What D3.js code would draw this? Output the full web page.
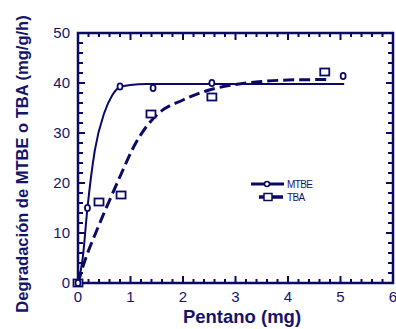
<html>
<head>
<script src='https://d3js.org/d3.v7.min.js'></script>
<style>
  body { margin: 0; background: #fff; }
  text { font-family: 'Liberation Sans', Arial, sans-serif; fill: #14146a; }
</style>
</head>
<body>
<script>
  'use strict';

  var mtbePoints = [[0, 0], [0.18, 15], [0.8, 39.3], [1.43, 39], [2.55, 40], [5.05, 41.4]];
  var tbaPoints = [[0, 0], [0.4, 16.2], [0.82, 17.6], [1.39, 33.8], [2.55, 37.2], [4.7, 42.2]];
  var mtbeCurve = [[0, 0], [0.09, 5], [0.18, 15], [0.32, 26.5], [0.5, 34], [0.65, 37.5],
                   [0.8, 39.2], [1.0, 39.6], [1.3, 39.8], [5.07, 39.8]];
  var tbaCurve = [[0, 0], [0.1, 3.5], [0.36, 10.6], [0.6, 16.5], [0.83, 22], [1.1, 28],
                  [1.5, 33.6], [2.0, 36.6], [2.5, 38.6], [3.0, 39.7], [3.5, 40.3], [4.0, 40.6], [4.74, 40.7]];
  var xTicks = [0, 1, 2, 3, 4, 5, 6];
  var yTicks = [0, 10, 20, 30, 40, 50];

  var navy = '#0a0a66';
  var W = 396, H = 329;
  var pLeft = 78, pRight = 393, pTop = 33, pBottom = 283;

  var svg = d3.select('body').append('svg')
      .attr('width', W)
      .attr('height', H);

  var x = d3.scaleLinear().domain([0, 6]).range([pLeft, pRight]);
  var y = d3.scaleLinear().domain([0, 50]).range([pBottom, pTop]);

  // ticks on all four sides, pointing inward
  var g = svg.append('g').attr('stroke', navy).attr('stroke-width', 2);
  d3.range(0, 6.01, 0.2).forEach(function (v) {
    var major = Math.abs(v - Math.round(v)) < 1e-6;
    var len = major ? 7 : 4;
    g.append('line').attr('x1', x(v)).attr('x2', x(v)).attr('y1', pBottom).attr('y2', pBottom - len);
    g.append('line').attr('x1', x(v)).attr('x2', x(v)).attr('y1', pTop).attr('y2', pTop + len);
  });
  d3.range(0, 50.01, 2).forEach(function (v) {
    var major = v % 10 === 0;
    var len = major ? 7 : 5;
    g.append('line').attr('y1', y(v)).attr('y2', y(v)).attr('x1', pLeft).attr('x2', pLeft + len);
    g.append('line').attr('y1', y(v)).attr('y2', y(v)).attr('x1', pRight).attr('x2', pRight - len);
  });

  svg.append('rect')
      .attr('x', pLeft).attr('y', pTop)
      .attr('width', pRight - pLeft).attr('height', pBottom - pTop)
      .attr('fill', 'none').attr('stroke', navy).attr('stroke-width', 2.5);

  svg.selectAll('.xl').data(xTicks).enter().append('text')
      .attr('x', function (d) { return x(d); })
      .attr('y', 302)
      .attr('text-anchor', 'middle')
      .style('font-size', '15px')
      .text(function (d) { return d; });

  svg.selectAll('.yl').data(yTicks).enter().append('text')
      .attr('x', 70)
      .attr('y', function (d) { return y(d) + 5; })
      .attr('text-anchor', 'end')
      .style('font-size', '15px')
      .text(function (d) { return d; });

  svg.append('text')
      .attr('x', 242).attr('y', 323)
      .attr('text-anchor', 'middle')
      .style('font-size', '18.5px').style('font-weight', 'bold')
      .text('Pentano (mg)');

  svg.append('text')
      .attr('transform', 'translate(28,164) rotate(-90)')
      .attr('text-anchor', 'middle')
      .style('font-size', '16.5px').style('font-weight', 'bold')
      .text('Degradación de MTBE o TBA  (mg/g/h)');

  var line = d3.line()
      .x(function (d) { return x(d[0]); })
      .y(function (d) { return y(d[1]); })
      .curve(d3.curveMonotoneX);

  svg.append('path').datum(tbaCurve)
      .attr('d', line)
      .attr('fill', 'none').attr('stroke', navy)
      .attr('stroke-width', 3).attr('stroke-dasharray', '11,5');

  svg.append('path').datum(mtbeCurve)
      .attr('d', line)
      .attr('fill', 'none').attr('stroke', navy)
      .attr('stroke-width', 2);

  svg.selectAll('.sq').data(tbaPoints).enter().append('rect')
      .attr('x', function (d) { return x(d[0]) - 4.5; })
      .attr('y', function (d) { return y(d[1]) - 3.5; })
      .attr('width', 9).attr('height', 7)
      .attr('fill', '#fff').attr('stroke', navy).attr('stroke-width', 1.8);

  svg.selectAll('.ci').data(mtbePoints).enter().append('ellipse')
      .attr('cx', function (d) { return x(d[0]); })
      .attr('cy', function (d) { return y(d[1]); })
      .attr('rx', 2.5).attr('ry', 3.2)
      .attr('fill', '#fff').attr('stroke', navy).attr('stroke-width', 1.8);

  // legend
  var lg = svg.append('g');
  lg.append('line').attr('x1', 251).attr('x2', 284).attr('y1', 184).attr('y2', 184)
      .attr('stroke', navy).attr('stroke-width', 3);
  lg.append('circle').attr('cx', 267).attr('cy', 184).attr('r', 2.5)
      .attr('fill', '#fff').attr('stroke', navy).attr('stroke-width', 1.5);
  lg.append('line').attr('x1', 259).attr('x2', 283).attr('y1', 197).attr('y2', 197)
      .attr('stroke', navy).attr('stroke-width', 3.5);
  lg.append('rect').attr('x', 264).attr('y', 193.5).attr('width', 8).attr('height', 7)
      .attr('fill', '#fff').attr('stroke', navy).attr('stroke-width', 1.5);
  lg.append('text').attr('x', 287).attr('y', 188)
      .style('font-size', '10px').style('letter-spacing', '-0.6px').text('MTBE');
  lg.append('text').attr('x', 287).attr('y', 201)
      .style('font-size', '10px').style('letter-spacing', '-0.6px').text('TBA');
</script>
</body>
</html>
